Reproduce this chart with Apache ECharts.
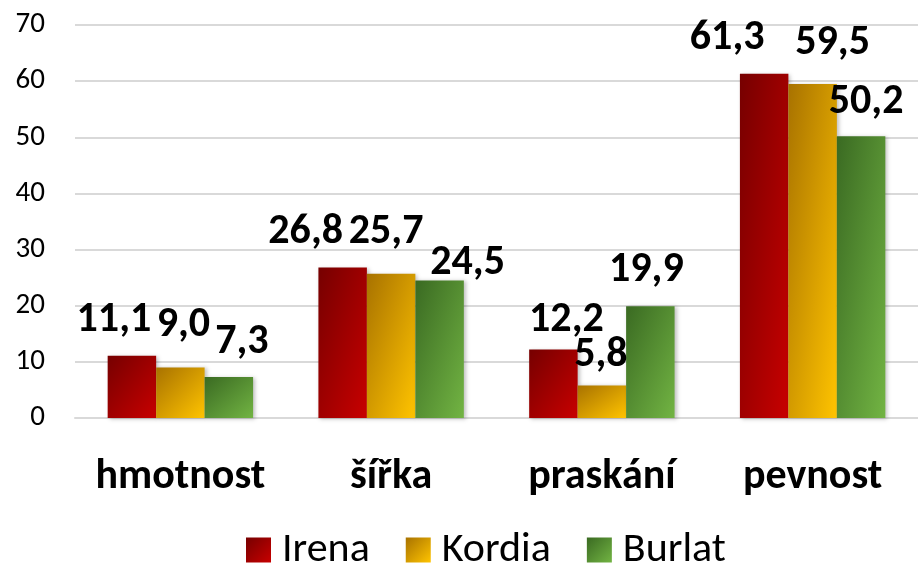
<!DOCTYPE html>
<html>
<head>
<meta charset="utf-8">
<script src="https://cdn.jsdelivr.net/npm/echarts@6/dist/echarts.min.js"></script>
<style>
  html, body { margin: 0; padding: 0; background: #fff; }
  #chart { width: 918px; height: 565px; }
</style>
</head>
<body>
<div id="chart"></div>
<script>
var categories = ["hmotnost", "šířka", "praskání", "pevnost"];
var irena = [11.1, 26.8, 12.2, 61.3];
var kordia = [9.0, 25.7, 5.8, 59.5];
var burlat = [7.3, 24.5, 19.9, 50.2];

// label nudges, like the original where labels were dragged by hand
var labelShift = {
  Irena: [[-18, -14], [-37, -14], [13, -8], [-37, -14]],
  Kordia: [[3, -21], [-5, -20], [-1, -9], [20, -19]],
  Burlat: [[13, -14], [28, 4], [-4, -15], [5, -13]]
};

var colors = {
  Irena: ["#760000", "#c80000"],
  Kordia: ["#a87200", "#ffc400"],
  Burlat: ["#3a6a22", "#72b443"]
};

var font = "Carlito, Lato, sans-serif";
var catGap = 0.31;
var W = 918, H = 565;
var gridL = 75, gridR = 0, gridT = 25, gridB = 147;
var yMax = 70;

function fmt(v) {
  return v.toFixed(1).replace(".", ",");
}

// diagonal gradient that runs corner to corner regardless of bar shape
function grad(name, w, h) {
  var d = h * h + w * w;
  var x1 = d > 0 ? (2 * h * h) / d : 1;
  var y1 = d > 0 ? (2 * w * w) / d : 1;
  return new echarts.graphic.LinearGradient(0, 0, x1, y1, [
    { offset: 0, color: colors[name][0] },
    { offset: 1, color: colors[name][1] }
  ]);
}

var barW = ((W - gridL - gridR) / categories.length) * (1 - catGap) / 3;
var plotH = H - gridT - gridB;

function makeSeries(name, values) {
  return {
    name: name,
    type: "bar",
    barGap: 0,
    barCategoryGap: catGap * 100 + "%",
    data: values.map(function (v, i) {
      return {
        value: v,
        label: { offset: labelShift[name][i] },
        itemStyle: { color: grad(name, barW, (v / yMax) * plotH) }
      };
    }),
    itemStyle: {
      color: grad(name, 1, 1),
      shadowColor: "rgba(0,0,0,0.25)",
      shadowBlur: 4,
      shadowOffsetX: 2,
      shadowOffsetY: 1
    },
    label: {
      show: true,
      position: "top",
      distance: 0,
      fontFamily: font,
      fontWeight: "bold",
      fontSize: 42,
      color: "#000",
      formatter: function (p) {
        return fmt(p.value);
      }
    }
  };
}

var chart = echarts.init(document.getElementById("chart"));
var option = {
  animation: false,
  textStyle: { fontFamily: font },
  grid: { left: gridL, right: gridR, top: gridT, bottom: gridB, containLabel: false },
  legend: {
    bottom: -11,
    left: 241,
    itemWidth: 25,
    itemHeight: 25,
    itemGap: 36,
    icon: "rect",
    itemStyle: { shadowBlur: 0, shadowOffsetX: 0, shadowOffsetY: 0 },
    textStyle: { fontFamily: font, fontSize: 42, color: "#000", padding: [0, 0, 0, 6] },
    data: ["Irena", "Kordia", "Burlat"]
  },
  xAxis: {
    type: "category",
    data: categories,
    axisLine: { lineStyle: { color: "#d9d9d9", width: 2 } },
    axisTick: { show: false },
    axisLabel: {
      interval: 0,
      margin: 38,
      fontFamily: font,
      fontWeight: "bold",
      fontSize: 42,
      color: "#000"
    }
  },
  yAxis: {
    type: "value",
    min: 0,
    max: yMax,
    interval: 10,
    axisLine: { show: false },
    axisTick: { show: false },
    splitLine: { lineStyle: { color: "#d9d9d9", width: 2 } },
    axisLabel: {
      margin: 30,
      fontFamily: font,
      fontSize: 29,
      color: "#000"
    }
  },
  series: [
    makeSeries("Irena", irena),
    makeSeries("Kordia", kordia),
    makeSeries("Burlat", burlat)
  ]
};
chart.setOption(option);
</script>
</body>
</html>
